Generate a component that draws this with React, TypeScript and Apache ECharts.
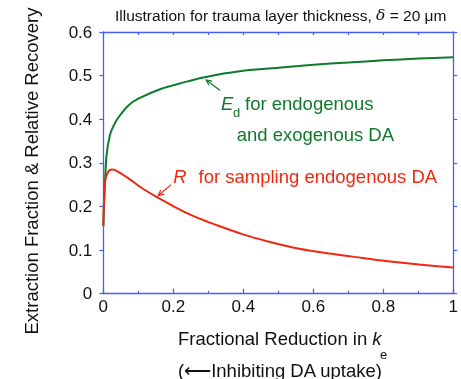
import React, { useEffect, useRef } from "react";
import * as echarts from "echarts";

const greenX = [0, 0.004, 0.009, 0.019, 0.03, 0.043, 0.071, 0.1, 0.166, 0.233, 0.275, 0.318, 0.4, 0.5, 0.6, 0.7, 0.8, 0.9, 1.0];
const greenY = [0.155, 0.24, 0.315, 0.364, 0.386, 0.404, 0.431, 0.447, 0.47, 0.485, 0.494, 0.501, 0.511, 0.518, 0.525, 0.53, 0.535, 0.539, 0.542];
const redX = [0, 0.005, 0.014, 0.024, 0.033, 0.071, 0.109, 0.152, 0.195, 0.233, 0.275, 0.318, 0.399, 0.465, 0.56, 0.645, 0.712, 0.807, 0.902, 1.0];
const redY = [0.155, 0.257, 0.28, 0.285, 0.284, 0.265, 0.243, 0.222, 0.203, 0.187, 0.172, 0.159, 0.136, 0.121, 0.103, 0.092, 0.085, 0.075, 0.067, 0.06];

const greenArrow = { head: [0.294, 0.49], tail: [0.334, 0.466] };
const redArrow = { head: [0.157, 0.225], tail: [0.194, 0.25] };

const GREEN = "#0e7a2c";
const RED = "#f02812";
const BLUE = "#4660f0";
const FONT = "'Liberation Sans', Arial, sans-serif";
const FS = 18.5;

function arrowGraphics(chart: any, a: any, color: string) {
  const h = chart.convertToPixel({ gridIndex: 0 }, a.head);
  const t = chart.convertToPixel({ gridIndex: 0 }, a.tail);
  const ang = Math.atan2(t[1] - h[1], t[0] - h[0]);
  const L = 6;
  const sp = 0.45;
  const p1 = [h[0] + L * Math.cos(ang + sp), h[1] + L * Math.sin(ang + sp)];
  const p2 = [h[0] + L * Math.cos(ang - sp), h[1] + L * Math.sin(ang - sp)];
  return [
    { type: "line", shape: { x1: t[0], y1: t[1], x2: h[0], y2: h[1] }, style: { stroke: color, lineWidth: 1.2 } },
    { type: "polyline", shape: { points: [p1, h, p2] }, style: { stroke: color, lineWidth: 1.2, fill: null } },
  ];
}

export default function App() {
  const ref = useRef<HTMLDivElement>(null);
  useEffect(() => {
    if (!ref.current) return;
    const chart = echarts.init(ref.current, null, { renderer: "svg" });
    const txt = (text: string, x: number, y: number, opts: any = {}, extra: any = {}) => ({
      type: "text",
      x,
      y,
      ...extra,
      style: {
        text,
        fontFamily: FONT,
        fontSize: FS,
        fill: "#111",
        textAlign: "left",
        textVerticalAlign: "middle",
        verticalAlign: "middle",
        ...opts,
      },
    });
    const baseGraphics: any[] = [
      txt("{a|Illustration for trauma layer thickness, }{d|δ}{a| = 20 μm}", 115, 15.3, {
        fontSize: 15.5,
        rich: {
          a: { fontFamily: FONT, fontSize: 15.5, fill: "#111" },
          d: { fontFamily: "'DejaVu Serif', serif", fontStyle: "italic", fontSize: 15.5, fill: "#111" },
        },
      }),
      txt("Extraction Fraction & Relative Recovery", 31, 171, { textAlign: "center" }, { rotation: Math.PI / 2 }),
      txt("{a|Fractional Reduction in }{k|k}", 178, 338.5, {
        rich: {
          a: { fontFamily: FONT, fontSize: FS, fill: "#111" },
          k: { fontFamily: FONT, fontSize: FS, fill: "#111", fontStyle: "italic" },
        },
      }),
      txt("e", 380, 354, { fontSize: 13 }),
      txt("(⟵Inhibiting DA uptake)", 178, 370),
      txt("E", 221, 103.5, { fill: GREEN, fontStyle: "italic" }),
      txt("d", 233, 112, { fill: GREEN, fontSize: 13 }),
      txt("for endogenous", 245, 103.5, { fill: GREEN }),
      txt("and exogenous DA", 236.7, 134.2, { fill: GREEN }),
      txt("R", 173.3, 176, { fill: RED, fontStyle: "italic" }),
      txt("for sampling endogenous DA", 198.5, 176, { fill: RED }),
    ];
    const option: any = {
      animation: false,
      grid: { left: 103.3, right: 6.5, top: 32, bottom: 85.3, containLabel: false },
      xAxis: [
        {
          type: "value",
          min: 0,
          max: 1,
          interval: 0.2,
          position: "bottom",
          axisLine: { show: true, onZero: false, lineStyle: { color: BLUE, width: 1.3 } },
          axisTick: { show: true, inside: true, length: 5, lineStyle: { color: BLUE, width: 1.2 } },
          minorTick: { show: true, splitNumber: 2, length: 3, lineStyle: { color: BLUE, width: 1.2 } },
          splitLine: { show: false },
          axisLabel: {
            color: "#111",
            fontFamily: FONT,
            fontSize: 17,
            margin: 4,
            formatter: (v: number) => (v === 0 ? "0" : v === 1 ? "1" : v.toFixed(1)),
          },
        },
        {
          type: "value",
          min: 0,
          max: 1,
          interval: 0.1,
          position: "top",
          axisLine: { show: true, onZero: false, lineStyle: { color: BLUE, width: 1.3 } },
          axisTick: { show: true, inside: true, length: 3, lineStyle: { color: BLUE, width: 1.2 } },
          splitLine: { show: false },
          axisLabel: { show: false },
        },
      ],
      yAxis: [
        {
          type: "value",
          min: 0,
          max: 0.6,
          interval: 0.1,
          position: "left",
          axisLine: { show: true, onZero: false, lineStyle: { color: BLUE, width: 1.3 } },
          axisTick: { show: true, inside: false, length: 4, lineStyle: { color: BLUE, width: 1.2 } },
          splitLine: { show: false },
          axisLabel: {
            color: "#111",
            fontFamily: FONT,
            fontSize: 17,
            margin: 11,
            formatter: (v: number) => (v === 0 ? "0" : v.toFixed(1)),
          },
        },
        {
          type: "value",
          min: 0,
          max: 0.6,
          interval: 0.1,
          position: "right",
          axisLine: { show: true, onZero: false, lineStyle: { color: BLUE, width: 1.3 } },
          axisTick: { show: true, inside: false, length: 4, lineStyle: { color: BLUE, width: 1.2 } },
          splitLine: { show: false },
          axisLabel: { show: false },
        },
      ],
      series: [
        {
          type: "line",
          name: "Ed",
          data: greenX.map((x, i) => [x, greenY[i]]),
          showSymbol: false,
          symbol: "none",
          smooth: 0.25,
          lineStyle: { color: GREEN, width: 2 },
          z: 3,
        },
        {
          type: "line",
          name: "R",
          data: redX.map((x, i) => [x, redY[i]]),
          showSymbol: false,
          symbol: "none",
          smooth: 0.25,
          lineStyle: { color: RED, width: 2 },
          z: 4,
        },
      ],
      graphic: baseGraphics,
    };
    chart.setOption(option);
    const arrows = [...arrowGraphics(chart, greenArrow, GREEN), ...arrowGraphics(chart, redArrow, RED)];
    chart.setOption({ graphic: [...baseGraphics, ...arrows] }, { replaceMerge: ["graphic"] });
    return () => chart.dispose();
  }, []);
  return <div ref={ref} style={{ position: "fixed", left: 0, top: 0, width: 461, height: 379 }} />;
}
